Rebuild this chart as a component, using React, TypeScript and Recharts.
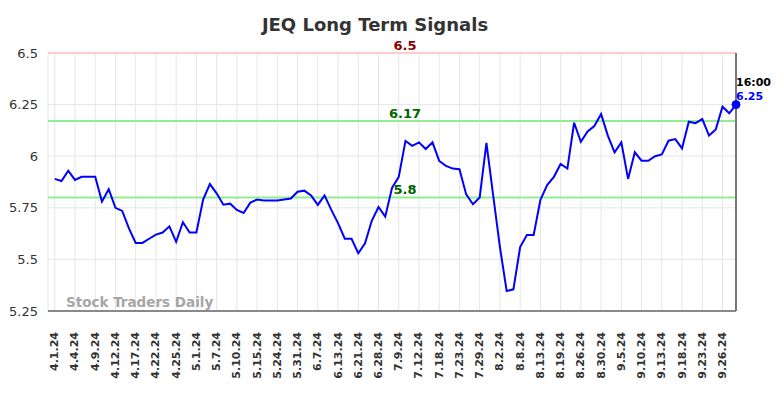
import React from "react";
import {
  LineChart,
  Line,
  XAxis,
  YAxis,
  CartesianGrid,
  ReferenceLine,
  ReferenceDot,
} from "recharts";

const tickLabels = [
  "4.1.24", "4.4.24", "4.9.24", "4.12.24", "4.17.24", "4.22.24", "4.25.24",
  "5.1.24", "5.7.24", "5.10.24", "5.15.24", "5.24.24", "5.31.24", "6.7.24",
  "6.13.24", "6.21.24", "6.28.24", "7.9.24", "7.12.24", "7.18.24", "7.23.24",
  "7.29.24", "8.2.24", "8.8.24", "8.13.24", "8.19.24", "8.26.24", "8.30.24",
  "9.5.24", "9.10.24", "9.13.24", "9.18.24", "9.23.24", "9.26.24",
];

const prices = [
  5.89, 5.88, 5.93, 5.885, 5.9, 5.9, 5.9, 5.78, 5.84, 5.75,
  5.735, 5.65, 5.58, 5.58, 5.6, 5.62, 5.63, 5.66, 5.585, 5.68,
  5.63, 5.63, 5.79, 5.865, 5.82, 5.765, 5.77, 5.74, 5.725, 5.775,
  5.79, 5.785, 5.785, 5.785, 5.79, 5.795, 5.828, 5.833, 5.81, 5.764,
  5.81, 5.74, 5.676, 5.6, 5.6, 5.53, 5.578, 5.687, 5.754, 5.707,
  5.846, 5.9, 6.074, 6.05, 6.067, 6.035, 6.067, 5.977, 5.953, 5.94,
  5.937, 5.815, 5.767, 5.8, 6.065, 5.81, 5.56, 5.347, 5.355, 5.56,
  5.618, 5.618, 5.788, 5.86, 5.9, 5.962, 5.94, 6.162, 6.07, 6.12,
  6.146, 6.204, 6.1, 6.019, 6.067, 5.89, 6.019, 5.978, 5.978, 6.0,
  6.009, 6.075, 6.083, 6.038, 6.167, 6.16, 6.18, 6.1, 6.13, 6.24,
  6.208, 6.25,
];

const yTicks = [5.25, 5.5, 5.75, 6, 6.25, 6.5];
const upperSignal = 6.17;
const lowerSignal = 5.8;
const topLevel = 6.5;
const lastTime = "16:00";

const data = prices.map((v, i) => ({ i, v }));
const lastIndex = prices.length - 1;
const lastPrice = prices[lastIndex];
const xTicks = tickLabels.map((_, k) => k * 3);

const FONT = "DejaVu Sans, sans-serif";

const XTick = (props: any) => {
  const { x, y, payload } = props;
  const label = tickLabels[Math.round(payload.value / 3)];
  return (
    <text
      x={0}
      y={0}
      transform={`translate(${x},${y + 13}) rotate(-90)`}
      textAnchor="end"
      dominantBaseline="central"
      fontSize={11}
      fontWeight="bold"
      fill="#333"
      fontFamily={FONT}
    >
      {label}
    </text>
  );
};

const makeLevelLabel = (text: string, color: string) => (props: any) => {
  const vb = props.viewBox || {};
  return (
    <text
      x={405}
      y={vb.y - 3}
      textAnchor="middle"
      fontSize={13}
      fontWeight="bold"
      fill={color}
      fontFamily={FONT}
    >
      {text}
    </text>
  );
};

const LastLabel = (props: any) => {
  const vb = props.viewBox || {};
  const cx = vb.x + (vb.width || 0) / 2;
  const cy = vb.y + (vb.height || 0) / 2;
  return (
    <g fontFamily={FONT} fontWeight="bold" fontSize={11}>
      <text x={cx} y={cy - 19} fill="#000">{lastTime}</text>
      <text x={cx} y={cy - 5} fill="#0000ff">{lastPrice.toString()}</text>
    </g>
  );
};

export default function App() {
  return (
    <div style={{ position: "absolute", left: 0, top: 0, width: 784, height: 398 }}>
      <div
        style={{
          position: "absolute",
          left: 0,
          width: 750,
          top: 14,
          textAlign: "center",
          fontFamily: FONT,
          fontWeight: "bold",
          fontSize: 18,
          color: "#333",
        }}
      >
        JEQ Long Term Signals
      </div>
      <LineChart
        width={784}
        height={398}
        data={data}
        margin={{ top: 53, right: 48, bottom: 0, left: 8 }}
      >
        <CartesianGrid stroke="#e6e6e6" strokeWidth={1} />
        <XAxis
          dataKey="i"
          type="number"
          domain={[-1, lastIndex]}
          ticks={xTicks}
          interval={0}
          tick={<XTick />}
          tickLine={false}
          height={87}
          axisLine={{ stroke: "#666", strokeWidth: 1.5 }}
        />
        <YAxis
          type="number"
          domain={[5.25, 6.5]}
          ticks={yTicks}
          width={40}
          axisLine={false}
          tickLine={false}
          tickMargin={4}
          tick={{ fontSize: 13, fill: "#333", fontFamily: FONT }}
        />
        <ReferenceLine
          y={topLevel}
          stroke="#ffcccc"
          strokeWidth={2}
          label={makeLevelLabel(topLevel.toString(), "#8b0000")}
        />
        <ReferenceLine
          y={upperSignal}
          stroke="#90ee90"
          strokeWidth={2}
          label={makeLevelLabel(upperSignal.toString(), "#006400")}
        />
        <ReferenceLine
          y={lowerSignal}
          stroke="#90ee90"
          strokeWidth={2}
          label={makeLevelLabel(lowerSignal.toString(), "#006400")}
        />
        <ReferenceLine x={lastIndex} stroke="#777" strokeWidth={2} />
        <Line
          type="linear"
          dataKey="v"
          stroke="#0000ff"
          strokeWidth={2}
          dot={false}
          isAnimationActive={false}
        />
        <ReferenceDot
          x={lastIndex}
          y={lastPrice}
          r={4}
          fill="#0000ff"
          stroke="#0000ff"
          label={<LastLabel />}
        />
      </LineChart>
      <div
        style={{
          position: "absolute",
          left: 66,
          top: 294,
          fontFamily: FONT,
          fontWeight: "bold",
          fontSize: 13.5,
          color: "#a6a6a6",
          whiteSpace: "nowrap",
        }}
      >
        Stock Traders Daily
      </div>
    </div>
  );
}
